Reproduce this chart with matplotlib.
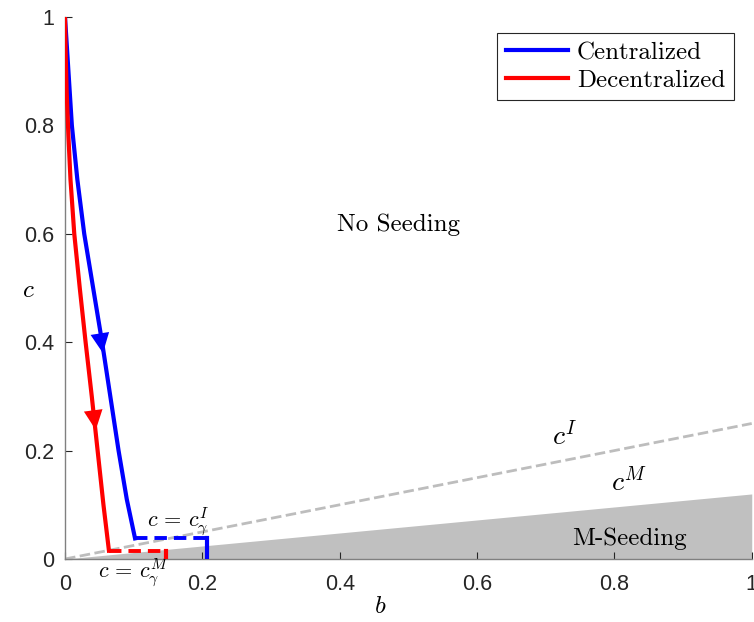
import numpy as np
import matplotlib
matplotlib.use("Agg")
import matplotlib.pyplot as plt

plt.rcParams['mathtext.fontset'] = 'cm'
plt.rcParams['axes.unicode_minus'] = False

# trajectories (b, c)
cent_b = [0.0, 0.002, 0.0045, 0.010, 0.018, 0.028, 0.041, 0.054, 0.066, 0.078, 0.090, 0.102]
cent_c = [1.0, 0.96, 0.91, 0.80, 0.70, 0.6, 0.5, 0.4, 0.3, 0.2, 0.11, 0.038]
dec_b = [0.0, 0.001, 0.0025, 0.005, 0.008, 0.0135, 0.0215, 0.030, 0.039, 0.0475, 0.056, 0.064]
dec_c = [1.0, 0.93, 0.86, 0.78, 0.70, 0.6, 0.5, 0.4, 0.3, 0.2, 0.1, 0.0153]

# threshold levels c = c_gamma
cent_end_b = 0.207
dec_end_b = 0.147

# boundary slopes: c^I = kI*b, c^M = kM*b
kI = 0.25
kM = 0.12

# arrow (tail, tip) on each trajectory
cent_arrow = [(0.0515, 0.41), (0.0552, 0.38)]
dec_arrow = [(0.0415, 0.27), (0.0448, 0.238)]

xticks = [0, 0.2, 0.4, 0.6, 0.8, 1]
yticks = [0, 0.2, 0.4, 0.6, 0.8, 1]

blue = '#0000ff'
red = '#ff0000'
gray = '#c0c0c0'

fig = plt.figure(figsize=(7.54, 6.22), dpi=100)
ax = fig.add_axes([0.0862, 0.1013, 0.9108, 0.8714])

bb = np.array([0, 1])
ax.fill_between(bb, 0, kM * bb, color=gray, lw=0, zorder=1)
ax.plot(bb, kI * bb, color='#bdbdbd', lw=2, dashes=(3.8, 1.6), zorder=2)

# centralized
ax.plot(cent_b, cent_c, color=blue, lw=3, zorder=4, solid_joinstyle='round', label='Centralized')
ax.plot([cent_b[-1], cent_end_b], [cent_c[-1], cent_c[-1]], color=blue, lw=2.8, dashes=(3.2, 1.8), zorder=4)
ax.plot([cent_end_b, cent_end_b], [cent_c[-1], 0], color=blue, lw=3, zorder=4)

# decentralized
ax.plot(dec_b, dec_c, color=red, lw=3, zorder=5, solid_joinstyle='round', label='Decentralized')
ax.plot([dec_b[-1], dec_end_b], [dec_c[-1], dec_c[-1]], color=red, lw=2.8, dashes=(3.2, 1.8), zorder=5)
ax.plot([dec_end_b, dec_end_b], [dec_c[-1], 0], color=red, lw=3, zorder=5)

for (tail, tip), col in [(cent_arrow, blue), (dec_arrow, red)]:
    ax.annotate('', xy=tip, xytext=tail, zorder=6,
                arrowprops=dict(arrowstyle='-|>,head_length=0.95,head_width=0.45',
                                mutation_scale=15, color=col, lw=0, shrinkA=0, shrinkB=0))

serif = 'cmr10'
ax.text(0.485, 0.616, 'No Seeding', fontsize=18, family=serif, ha='center', va='center')
ax.text(0.822, 0.037, 'M-Seeding', fontsize=18, family=serif, ha='center', va='center', zorder=7)
ax.text(0.728, 0.225, r'$c^I$', fontsize=20, ha='center', va='center')
ax.text(0.821, 0.140, r'$c^M$', fontsize=20, ha='center', va='center')
ax.text(0.165, 0.068, r'$c\,=\,c^I_\gamma$', fontsize=16, ha='center', va='center', zorder=7)
ax.text(0.100, -0.026, r'$c\,=\,c^M_\gamma$', fontsize=16, ha='center', va='center', clip_on=False)

ax.set_xlim(0, 1)
ax.set_ylim(0, 1)
ax.set_xticks(xticks)
ax.set_yticks(yticks)
ax.set_xticklabels(['0', '0.2', '0.4', '0.6', '0.8', '1'])
ax.set_yticklabels(['0', '0.2', '0.4', '0.6', '0.8', '1'])
for lab in ax.get_xticklabels() + ax.get_yticklabels():
    lab.set_family('Liberation Sans')
ax.tick_params(direction='in', length=5, labelsize=15.5, colors='#262626')
ax.tick_params(axis='x', pad=11)
ax.tick_params(axis='y', pad=8)
for s in ['top', 'right']:
    ax.spines[s].set_visible(False)
for s in ['left', 'bottom']:
    ax.spines[s].set_color('#808080')
    ax.spines[s].set_linewidth(1)

ax.set_xlabel(r'$b$', fontsize=18)
ax.set_ylabel(r'$c$', fontsize=18, rotation=0)
ax.xaxis.label.set_va('center')
ax.yaxis.label.set_va('center')
ax.yaxis.label.set_ha('center')
ax.xaxis.set_label_coords(0.4585, -0.086)
ax.yaxis.set_label_coords(-0.054, 0.496)

leg = ax.legend(loc='upper right', bbox_to_anchor=(0.974, 0.9705), prop={'family': serif, 'size': 18},
                handlelength=2.5, handletextpad=0.35, borderpad=0.35, labelspacing=0.2,
                fancybox=False, framealpha=1, edgecolor='#262626', borderaxespad=0)
leg.get_frame().set_linewidth(0.8)

fig.savefig('out.png', dpi=100)
